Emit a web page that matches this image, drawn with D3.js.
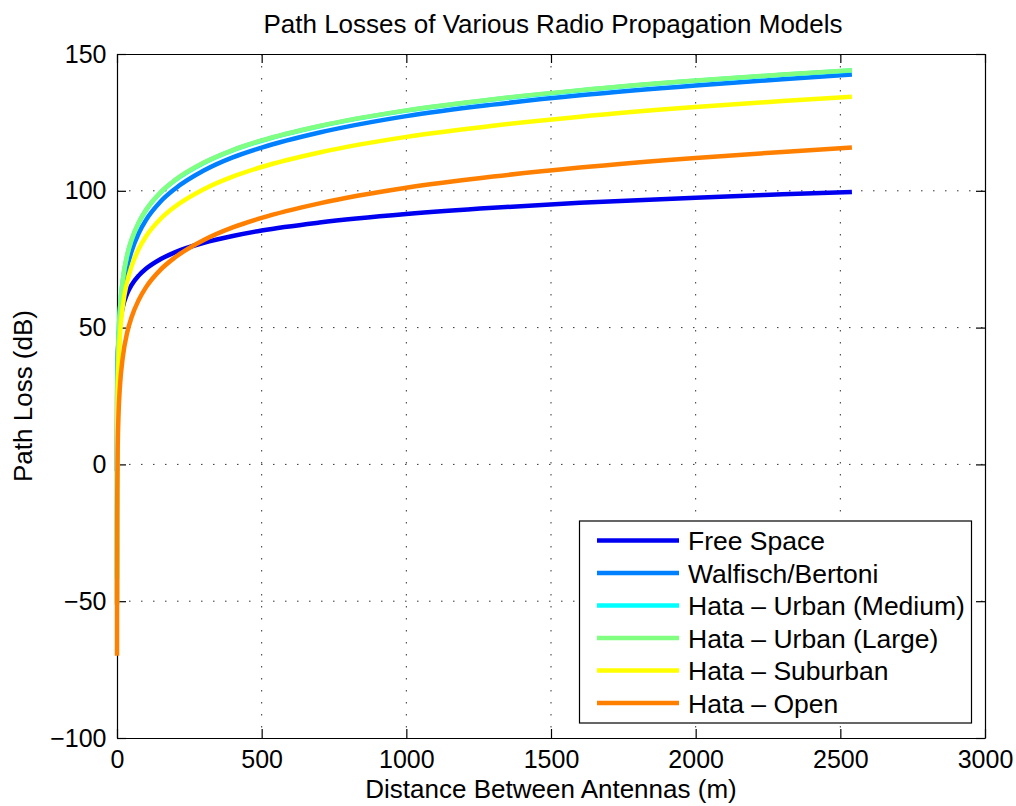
<!DOCTYPE html>
<html>
<head>
<meta charset="utf-8">
<script src="https://cdn.jsdelivr.net/npm/d3@7"></script>
<style>
  body { margin: 0; background: #fff; }
  svg { display: block; font-family: "Liberation Sans", Arial, Helvetica, sans-serif; }
</style>
</head>
<body>
<div id="chart"></div>
<script>
// distances (m) and path losses (dB)
const distance    = [0.02, 0.1, 0.5, 1, 2, 5, 10, 20, 35, 50, 75, 100, 150, 200, 300, 400, 500, 700, 1000, 1300, 1600, 2000, 2300, 2540];
const freeSpace   = [-2.5, 11.5, 25.5, 31.5, 37.5, 45.5, 51.5, 57.5, 62.4, 65.5, 69.0, 71.5, 75.0, 77.5, 81.0, 83.5, 85.5, 88.4, 91.5, 93.8, 95.6, 97.5, 98.7, 99.6];
const walfisch    = [-51.2, -24.7, 1.9, 13.3, 24.8, 39.9, 51.3, 62.7, 72.0, 77.8, 84.5, 89.3, 96.0, 100.7, 107.4, 112.2, 115.8, 121.3, 127.3, 131.5, 134.9, 138.5, 140.8, 142.5];
const urbanMedium = [-41.7, -16.3, 9.2, 20.1, 31.1, 45.6, 56.5, 67.4, 76.3, 81.9, 88.3, 92.9, 99.3, 103.8, 110.2, 114.8, 118.3, 123.6, 129.3, 133.4, 136.7, 140.2, 142.4, 144.0];
const urbanLarge  = [-41.6, -16.2, 9.3, 20.2, 31.2, 45.7, 56.6, 67.5, 76.4, 82.0, 88.4, 93.0, 99.4, 103.9, 110.3, 114.9, 118.4, 123.7, 129.4, 133.5, 136.8, 140.3, 142.5, 144.1];
const suburban    = [-51.3, -25.9, -0.4, 10.5, 21.5, 36.0, 46.9, 57.8, 66.7, 72.3, 78.7, 83.3, 89.7, 94.2, 100.6, 105.2, 108.7, 114.0, 119.7, 123.8, 127.1, 130.6, 132.8, 134.4];
const openArea    = [-69.9, -44.5, -19.0, -8.1, 2.9, 17.4, 28.3, 39.2, 48.1, 53.7, 60.1, 64.7, 71.1, 75.6, 82.0, 86.6, 90.1, 95.4, 101.1, 105.2, 108.5, 112.0, 114.2, 115.8];

const seriesNames  = ["Free Space", "Walfisch/Bertoni", "Hata \u2013 Urban (Medium)", "Hata \u2013 Urban (Large)", "Hata \u2013 Suburban", "Hata \u2013 Open"];
const seriesValues = [freeSpace, walfisch, urbanMedium, urbanLarge, suburban, openArea];
const seriesColors = ["#0000f0", "#0080ff", "#00ffff", "#80ff80", "#ffff00", "#ff8000"];

const xTicks = [0, 500, 1000, 1500, 2000, 2500, 3000];
const yTicks = [-100, -50, 0, 50, 100, 150];

const width = 1016, height = 806;
const margin = {top: 54, right: 31, bottom: 68, left: 117};
const innerW = width - margin.left - margin.right;
const innerH = height - margin.top - margin.bottom;

const X = d3.scaleLinear().domain([0, 3000]).range([0, innerW]);
const Y = d3.scaleLinear().domain([-100, 150]).range([innerH, 0]);

const svg = d3.select("#chart").append("svg")
  .attr("width", width)
  .attr("height", height);

svg.append("rect").attr("width", width).attr("height", height).attr("fill", "#fff");

const g = svg.append("g").attr("transform", `translate(${margin.left},${margin.top})`);

// dotted grid
g.append("g").selectAll("line")
  .data(xTicks.slice(1, -1))
  .join("line")
  .attr("x1", d => X(d)).attr("x2", d => X(d))
  .attr("y1", 0).attr("y2", innerH)
  .attr("stroke", "#333").attr("stroke-width", 1)
  .attr("stroke-dasharray", "1.5,10.5");

g.append("g").selectAll("line")
  .data(yTicks.slice(1, -1))
  .join("line")
  .attr("x1", 0).attr("x2", innerW)
  .attr("y1", d => Y(d)).attr("y2", d => Y(d))
  .attr("stroke", "#333").attr("stroke-width", 1)
  .attr("stroke-dasharray", "1.5,10.5");

// axes, ticks pointing inward on all four sides
const fmt = d => d < 0 ? "\u2212" + Math.abs(d) : String(d);
const tickLen = 9;

const xAxis = g.append("g").attr("transform", `translate(0,${innerH})`)
  .call(d3.axisBottom(X).tickValues(xTicks).tickFormat(fmt).tickSizeInner(-tickLen).tickSizeOuter(0).tickPadding(12.5));
const yAxis = g.append("g")
  .call(d3.axisLeft(Y).tickValues(yTicks).tickFormat(fmt).tickSizeInner(-tickLen).tickSizeOuter(0).tickPadding(10.5));
const xTop = g.append("g")
  .call(d3.axisTop(X).tickValues(xTicks).tickFormat("").tickSizeInner(-tickLen).tickSizeOuter(0));
const yRight = g.append("g").attr("transform", `translate(${innerW},0)`)
  .call(d3.axisRight(Y).tickValues(yTicks).tickFormat("").tickSizeInner(-tickLen).tickSizeOuter(0));

[xAxis, yAxis, xTop, yRight].forEach(a => {
  a.selectAll("path, line").attr("stroke", "#000").attr("stroke-width", 1.2);
  a.selectAll("text").attr("font-size", 25).attr("fill", "#000")
    .attr("font-family", "'Liberation Sans', Arial, Helvetica, sans-serif");
});

// curves
const line = d3.line()
  .x((d, i) => X(distance[i]))
  .y(d => Y(d))
  .curve(d3.curveMonotoneX);

g.append("g").selectAll("path")
  .data(seriesValues)
  .join("path")
  .attr("d", d => line(d))
  .attr("fill", "none")
  .attr("stroke", (d, i) => seriesColors[i])
  .attr("stroke-width", 4.5)
  .attr("stroke-linejoin", "round");

// title and axis labels
svg.append("text")
  .attr("x", margin.left + innerW / 2 + 2).attr("y", 33)
  .attr("text-anchor", "middle").attr("font-size", 26)
  .text("Path Losses of Various Radio Propagation Models");

svg.append("text")
  .attr("x", margin.left + innerW / 2).attr("y", 797.5)
  .attr("text-anchor", "middle").attr("font-size", 26)
  .text("Distance Between Antennas (m)");

svg.append("text")
  .attr("transform", `translate(31.5,${margin.top + innerH / 2}) rotate(-90)`)
  .attr("text-anchor", "middle").attr("font-size", 26)
  .text("Path Loss (dB)");

// legend
const legend = svg.append("g");
legend.append("rect")
  .attr("x", 579.5).attr("y", 521)
  .attr("width", 392).attr("height", 202)
  .attr("fill", "#fff").attr("stroke", "#000").attr("stroke-width", 1.2);

const rows = legend.selectAll("g.row")
  .data(seriesNames)
  .join("g")
  .attr("class", "row")
  .attr("transform", (d, i) => `translate(0,${540.5 + i * 32.5})`);

rows.append("line")
  .attr("x1", 597).attr("x2", 679)
  .attr("stroke", (d, i) => seriesColors[i])
  .attr("stroke-width", 4.5);

rows.append("text")
  .attr("x", 688).attr("dy", "0.36em")
  .attr("font-size", 26.5)
  .text(d => d);
</script>
</body>
</html>
